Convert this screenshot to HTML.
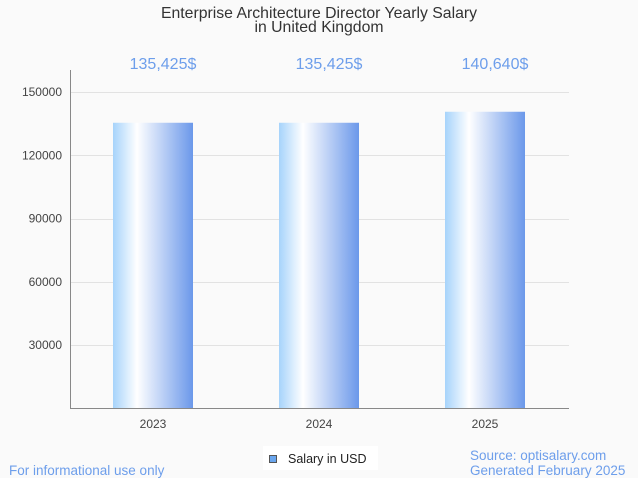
<!DOCTYPE html>
<html><head><meta charset="utf-8"><style>
body{margin:0;background:#fafafa;font-family:"Liberation Sans",sans-serif}
svg{display:block}
</style></head><body>
<svg width="638" height="478" id="c">
<defs><linearGradient id="g" x1="0" x2="1" y1="0" y2="0">
<stop offset="0" stop-color="#a6d3fb"/><stop offset="0.3" stop-color="#ffffff"/><stop offset="1" stop-color="#6b98ea"/></linearGradient></defs>
<text x="319" y="18" text-anchor="middle" font-size="15.8" fill="#333">Enterprise Architecture Director Yearly Salary</text>
<text x="319" y="32" text-anchor="middle" font-size="15.8" fill="#333">in United Kingdom</text>
<g id="grid"></g><g id="bars"></g>
<line x1="70.5" y1="70" x2="70.5" y2="408" stroke="#888"/>
<line x1="70" y1="408.5" x2="569" y2="408.5" stroke="#888"/>
<g>
<rect x="263" y="446" width="115" height="24" fill="#fff"/>
<rect x="269.5" y="455.5" width="7" height="7" fill="#6aa6ee" stroke="#555"/>
<text x="288" y="463" font-size="12.5" fill="#222">Salary in USD</text>
</g>
<text x="9" y="475" font-size="13.5" fill="#6d9eeb">For informational use only</text>
<text x="470" y="460" font-size="13.5" fill="#6d9eeb">Source: optisalary.com</text>
<text x="470" y="475" font-size="13.5" fill="#6d9eeb">Generated February 2025</text>
</svg>
<script>
const categories=["2023","2024","2025"];
const salaries=[135425,135425,140640];
const valueLabels=["135,425$","135,425$","140,640$"];
const yTicks=[30000,60000,90000,120000,150000];
const NS="http://www.w3.org/2000/svg";
const y=v=>408.5-v/30000*63.3;
const band=166, x0=70;
const xc=i=>x0+band*(i+0.5);
function mk(t,a,p){const e=document.createElementNS(NS,t);for(const k in a)e.setAttribute(k,a[k]);p.appendChild(e);return e;}
const grid=document.getElementById('grid'),bars=document.getElementById('bars');
yTicks.forEach(v=>{
 const l=mk('line',{x1:71,x2:569,y1:Math.round(y(v))+0.5,y2:Math.round(y(v))+0.5,stroke:'#e2e2e2'},grid);
 
 
 const t=mk('text',{x:62,y:y(v)+4,'text-anchor':'end','font-size':12,fill:'#444'},grid);
 t.textContent=v;
 
 
});
categories.forEach((c,i)=>{
 const r=mk('rect',{x:xc(i)-40,y:y(salaries[i]),width:80,height:408-y(salaries[i]),fill:'url(#g)'},bars);
 
 
 const t=mk('text',{x:xc(i),y:428,'text-anchor':'middle','font-size':12,fill:'#444'},bars);
 t.textContent=c;
 
 
 const v=mk('text',{x:xc(i)+10,y:69,'text-anchor':'middle','font-size':16,fill:'#6d9eeb'},bars);
 v.textContent=valueLabels[i];
 
 
});
</script>
</body></html>
